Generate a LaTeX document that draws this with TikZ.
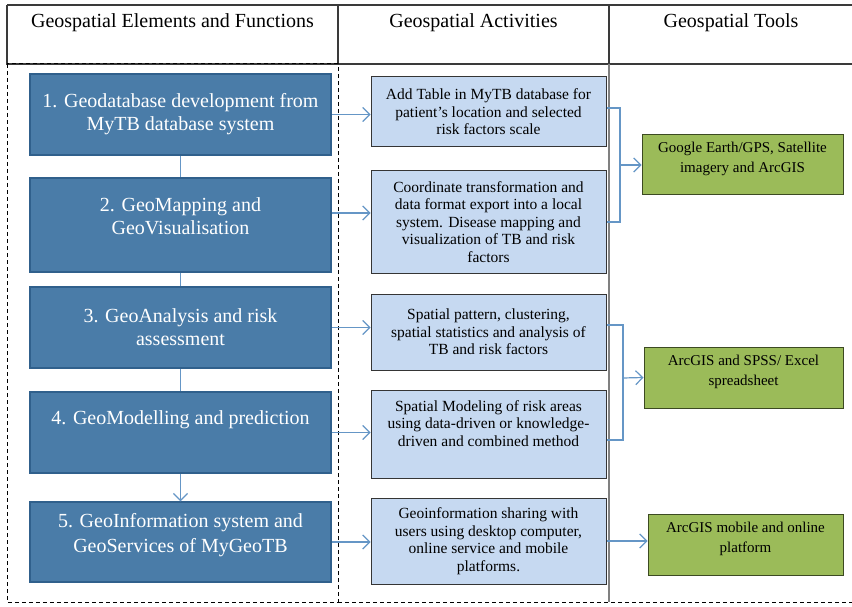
\documentclass[tikz,border=0pt]{standalone}
\usepackage{fontspec}
\setmainfont{Liberation Serif}
\usepackage{tikz}
\usetikzlibrary{arrows.meta}

\definecolor{funcblue}{HTML}{4A7CA8}
\definecolor{funcedge}{HTML}{30608C}
\definecolor{actblue}{HTML}{C6D9F1}
\definecolor{actedge}{HTML}{353535}
\definecolor{toolgreen}{HTML}{9BBB59}
\definecolor{tooledge}{HTML}{3C4A22}
\definecolor{linkblue}{HTML}{6596C6}
\definecolor{gridgray}{HTML}{3A3A3A}

\begin{document}
\begin{tikzpicture}[x=1pt, y=-1pt, thin, >={Straight Barb[length=7pt,width=14pt]},
    head/.style = {font=\fontsize{20}{22}\selectfont},
    func/.style = {draw=funcedge, fill=funcblue, text=white, line width=1.5pt, inner sep=0pt, minimum width=301pt, align=center, font=\fontsize{20}{23}\selectfont},
    act/.style = {draw=actedge, fill=actblue, line width=1pt, inner sep=0pt, minimum width=235pt, align=center, font=\fontsize{15.5}{17.5}\selectfont},
    tool/.style = {draw=tooledge, fill=toolgreen, line width=1pt, inner sep=0pt, align=center, text depth=15pt, font=\fontsize{15}{20}\selectfont},
    link/.style = {draw=linkblue, line width=1.2pt}]
                \useasboundingbox (0,0) rectangle (852,607);
                % table frame
                \draw[gridgray, line width=1.2pt] (7,5) -- (852,5) (7,5) -- (7,64) -- (852,64) (338,5) -- (338,64) (609,5) -- (609,64);
                \draw[black, line width=1pt, dash pattern=on 4pt off 3pt] (7,64) rectangle (338,602) (338,602) -- (852,602);
                \draw[gray, line width=1.6pt] (609,64) -- (609,602);
                \node[head] (h0) at (172.5,23) {Geospatial Elements and Functions};
                \node[head] (h1) at (473.5,23) {Geospatial Activities};
                \node[head] (h2) at (731,23) {Geospatial Tools};
                % elements and functions
                \node[func, minimum height=81pt] (f1) at (180.5,114.5) {1. Geodatabase development from\\MyTB database system};
                \node[func, minimum height=94pt, text depth=18pt] (f2) at (180.5,225) {2. GeoMapping and\\GeoVisualisation};
                \node[func, minimum height=81pt] (f3) at (180.5,327.5) {3. GeoAnalysis and risk\\assessment};
                \node[func, minimum height=81pt, text depth=30pt] (f4) at (180.5,432.5) {4. GeoModelling and prediction};
                \node[func, minimum height=80pt, text depth=18pt, font=\fontsize{20}{25}\selectfont] (f5) at (180.5,542) {5. GeoInformation system and\\GeoServices of MyGeoTB};
                % activities
                \node[act, minimum height=70pt] (a1) at (488.5,112) {Add Table in MyTB database for\\patient's location and selected\\risk factors scale};
                \node[act, minimum height=102pt] (a2) at (488.5,222) {Coordinate transformation and\\data format export into a local\\system. Disease mapping and\\visualization of TB and risk\\factors};
                \node[act, minimum height=76pt] (a3) at (488.5,332) {Spatial pattern, clustering,\\spatial statistics and analysis of\\TB and risk factors};
                \node[act, minimum height=88pt, text depth=21pt] (a4) at (488.5,434) {Spatial Modeling of risk areas\\using data-driven or knowledge-\\driven and combined method};
                \node[act, minimum height=86pt] (a5) at (488.5,541) {Geoinformation sharing with\\users using desktop computer,\\online service and mobile\\platforms.};
                % tools
                \node[tool, minimum width=201pt, minimum height=60pt] (t1) at (742.5,165) {Google Earth/GPS, Satellite\\imagery and ArcGIS};
                \node[tool, minimum width=199pt, minimum height=61pt] (t2) at (743.5,377.5) {ArcGIS and SPSS/ Excel\\spreadsheet};
                \node[tool, minimum width=195pt, minimum height=61pt] (t3) at (745.5,544.5) {ArcGIS mobile and online\\platform};
                \coordinate (j1) at (620,165);
                \coordinate (j2) at (623,378);
                % connectors
                \draw[link] (f1) -- (f2);
                \draw[link] (f2) -- (f3);
                \draw[link] (f3) -- (f4);
                \draw[link, ->] (f4) -- (f5);
                \draw[link, ->] (f1.east) -- (f1.east -| a1.west);
                \draw[link, ->] ([yshift=12pt]f2.east) -- ([yshift=12pt]f2.east -| a2.west);
                \draw[link, ->] (f3.east) -- (f3.east -| a3.west);
                \draw[link, ->] (f4.east) -- (f4.east -| a4.west);
                \draw[link, ->] (f5.east) -- (f5.east -| a5.west);
                \draw[link] ([yshift=4pt]a1.east) -| (j1) |- (a2.east);
                \draw[link, ->] (j1) -- (t1.west);
                \draw[link] ([yshift=7pt]a3.east) -| (j2) |- ([yshift=-6pt]a4.east);
                \draw[link, ->] (j2) -- (t2.west);
                \draw[link, ->] (a5.east) -- (a5.east -| t3.west);
            \end{tikzpicture}
\end{document}
